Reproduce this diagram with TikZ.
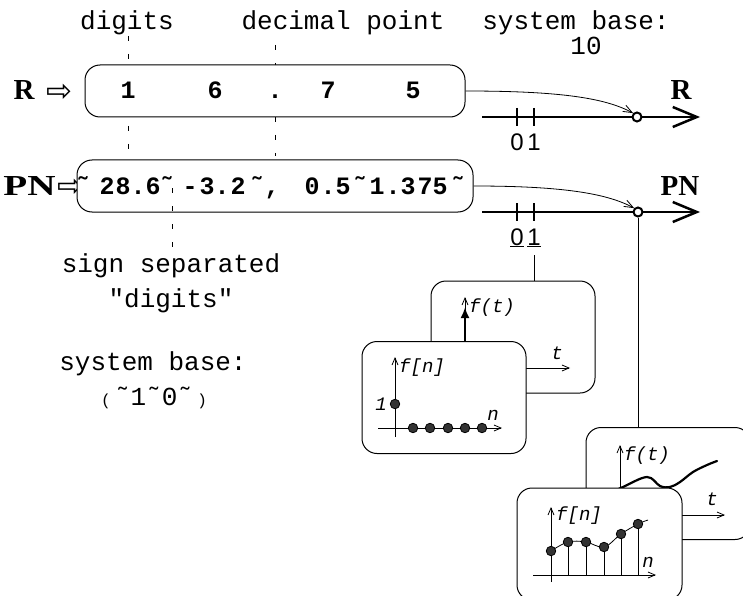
\documentclass[tikz,border=0pt]{standalone}
\usepackage{fontspec}
\usepackage{graphicx}
\newfontfamily\cour{Liberation Mono}
\newfontfamily\ars{Liberation Sans}
\newfontfamily\djv{DejaVu Sans}
\newfontfamily\tms{Liberation Serif}
\usetikzlibrary{arrows.meta}
\tikzset{
  lab/.style={font=\cour\fontsize{26}{30}\selectfont, anchor=base, inner sep=0pt},
  bdig/.style={font=\cour\bfseries\fontsize{25}{28}\selectfont, anchor=base, inner sep=0pt},
  sym/.style={font=\tms\bfseries\fontsize{29}{32}\selectfont, anchor=base, inner sep=0pt},
  harr/.style={font=\djv\fontsize{31}{34}\selectfont, inner sep=0pt},
  numlab/.style={font=\ars\fontsize{24}{28}\selectfont, anchor=base, inner sep=0pt},
  flab/.style={font=\cour\itshape\fontsize{19}{22}\selectfont, inner sep=0pt},
  numbox/.style={draw, rounded corners=15pt, line width=1pt, fill=white, inner sep=0pt},
  plotbox/.style={draw, rounded corners=15pt, line width=1pt, fill=white, inner sep=0pt,
                  minimum width=164pt, minimum height=112pt},
  guide/.style={line width=0.8pt, dash pattern=on 5pt off 13pt},
  numline/.style={line width=2.5pt, -{Straight Barb[length=24pt,width=20pt,line width=2.5pt]}},
  tick/.style={line width=2.5pt},
  pt/.style={circle, draw, fill=white, line width=2pt, inner sep=0pt, minimum size=9pt},
  thinarr/.style={line width=0.8pt, -{Straight Barb[length=9pt,width=7pt,line width=0.8pt]}},
  ax/.style={line width=0.8pt},
  axarr/.style={line width=0.8pt, -{Straight Barb[length=7pt,width=6pt,line width=0.8pt]}},
  delta/.style={line width=2.5pt, -{Latex[length=11pt,width=9pt]}},
  dot/.style={circle, draw=black, fill=black!80, line width=0.8pt, inner sep=0pt, minimum size=9.5pt},
  conn/.style={line width=0.8pt},
}
\begin{document}
\begin{tikzpicture}[x=1pt,y=-1pt]
\useasboundingbox (0,0) rectangle (743,596);

% guide lines
\draw[guide] (128,36) -- (128,158);
\draw[guide] (275,45) -- (275,156);

% top labels
\node[lab] (tdig) at (127,30) {digits};
\node[lab] (tdec) at (343,30) {decimal point};
\node[lab] (tsys) at (576,30) {system base:};
\node[lab] (tten) at (586,55) {10};

% R row
\node[sym] (rl) at (24,100) {R};
\node[harr] (ra) at (59,93) {⇨};
\node[numbox, minimum width=380pt, minimum height=52pt] (rbox) at (275,91) {};
\foreach \x/\c [count=\i] in {128/1, 215/6, 275/., 328/7, 413/5}
  \node[bdig] (rd\i) at (\x,99) {\c};
\node[sym] (rr) at (681,100) {R};

\coordinate (rs) at (482,117);
\coordinate (re) at (700,117);
\draw[numline] (rs) -- (re);
\draw[tick] (517,108) -- (517,126);
\draw[tick] (534,108) -- (534,126);
\node[numlab] (r0) at (517,150) {0};
\node[numlab] (r1) at (534,150) {1};
\node[pt] (c1) at (637,117) {};
\draw[thinarr] (rbox.east) .. controls (560,91) and (605,98) .. (c1.north west);

% PN row
\node[sym] (pl) at (29.5,195) {\scalebox{1.35}[1]{PN}};
\node[harr] (pa) at (70,188) {⇨};
\node[numbox, minimum width=396pt, minimum height=52pt] (pbox) at (275,186) {};
\foreach \x/\c [count=\i] in {83/˜, 107/2, 123/8, 138/., 153/6, 167/˜, 190/-, 207/3, 222/., 238/2, 257/˜, 272/{,}, 312/0, 328/., 343/5, 360/˜, 377/1, 393/., 408/3, 425/7, 440/5, 458/˜}
  \node[bdig] (pd\i) at (\x,194) {\c};
\node[sym] (pr) at (680,195) {PN};
\draw[guide] (172,188) -- (172,256);

\coordinate (ps) at (482,212);
\coordinate (pe) at (700,212);
\draw[numline] (ps) -- (pe);
\draw[tick] (517,203) -- (517,221);
\draw[tick] (534,203) -- (534,221);
\node[numlab] (p0) at (517,245) {\underline{0}};
\node[numlab] (p1) at (534,245) {\underline{1}};
\node[pt] (c2) at (638,212) {};
\draw[thinarr] (pbox.east) .. controls (560,186) and (606,193) .. (c2.north west);

% left texts
\node[lab] (ss1) at (171,272) {sign separated};
\node[lab] (ss2) at (171,307) {"digits"};
\node[lab] (sb1) at (153,370) {system base:};
\node[lab] (sb2) at (154,405) {{\fontsize{16}{16}\selectfont(}\,˜1˜0˜\,{\fontsize{16}{16}\selectfont)}};

% plot pair 1
\node[plotbox] (b1) at (513,337) {};
\coordinate (k1) at (534,255);
\draw[conn] (k1) -- (k1 |- b1.north);
\draw[axarr] (465,368) -- (570,368);
\draw[axarr] (465,368) -- (465,297);
\draw[delta] (465,368) -- (465,307);
\node[flab, anchor=west] (ft1) at (469,308) {f(t)};
\node[flab] (t1) at (557,353) {t};

\node[plotbox] (f1) at (444,397.5) {};
\draw[axarr] (395,437) -- (395,357);
\draw[axarr] (378,428) -- (502,428);
\node[flab, anchor=west] (fn1) at (399,368) {f[n]};
\node[flab] (n1) at (493,415) {n};
\node[flab] (one) at (381,404) {1};
\node[dot] (d0) at (395,404) {};
\foreach \x [count=\i] in {413,430,448,465,482}
  \node[dot] (dd\i) at (\x,428) {};

% plot pair 2
\node[plotbox, minimum width=164pt] (b2) at (668,483.5) {};
\draw[conn] (c2) -- (c2 |- b2.north);
\draw[axarr] (620,515) -- (725,515);
\draw[axarr] (620,515) -- (620,445);
\draw[line width=2.2pt, line cap=round] plot[smooth, tension=0.6] coordinates
  {(612,492) (623,487) (647,477) (660,486) (670,487) (680,482) (693,472) (707,465) (717,461)};
\node[flab, anchor=west] (ft2) at (624,456) {f(t)};
\node[flab] (t2) at (712,499) {t};

\node[plotbox, minimum width=165pt] (f2) at (599.5,544) {};
\draw[axarr] (551,582) -- (551,507);
\draw[axarr] (533,575) -- (656,575);
\node[flab, anchor=west] (fn2) at (556,516) {f[n]};
\node[flab] (n2) at (648,562) {n};
\draw[ax] plot[smooth, tension=0.6] coordinates
  {(551,551) (568,542) (586,542) (604,547) (621,534) (638,524) (648,520)};
\foreach \x/\y [count=\i] in {551/551, 568/542, 586/542, 604/547, 621/534, 638/524}{
  \draw[ax] (\x,575) -- (\x,\y);
  \node[dot] (s\i) at (\x,\y) {};
}
\end{tikzpicture}
\end{document}
